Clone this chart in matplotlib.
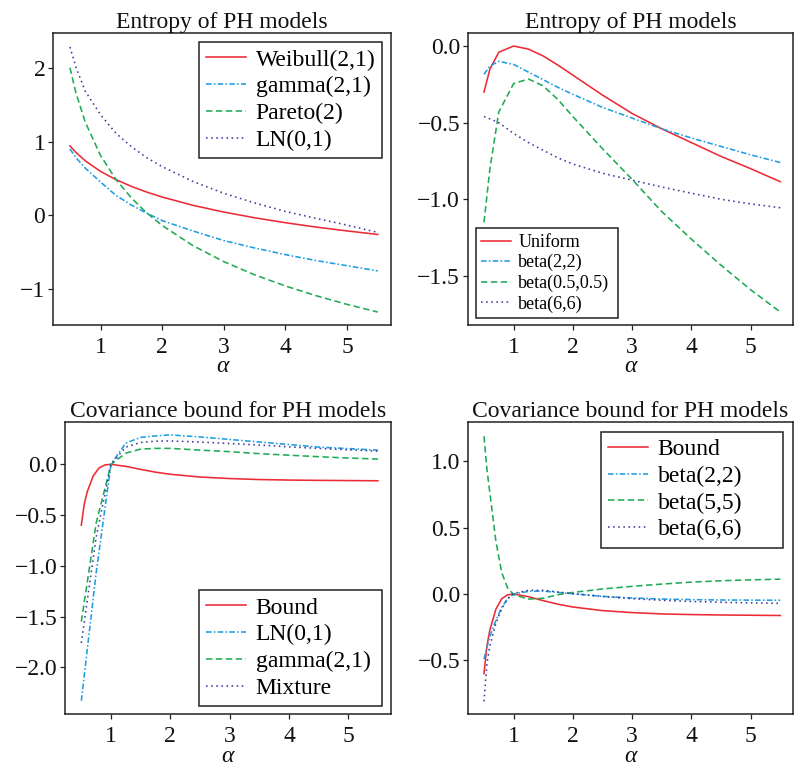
import numpy as np
import matplotlib
matplotlib.use("Agg")
import matplotlib.pyplot as plt

plt.rcParams['font.family'] = ['Liberation Serif', 'DejaVu Serif']
plt.rcParams['axes.unicode_minus'] = True

# ---- data ----
alpha_top = [0.5, 0.6, 0.75, 1.0, 1.25, 1.5, 1.75, 2.0, 2.5, 3.0, 3.5, 4.0, 4.5, 5.0, 5.5]

# entropy, heavy-ish models (top left)
weibull = [0.942, 0.851, 0.739, 0.595, 0.484, 0.393, 0.316, 0.249, 0.137, 0.046, -0.031, -0.098, -0.157, -0.209, -0.257]
gamma21 = [0.90, 0.78, 0.64, 0.45, 0.27, 0.14, 0.03, -0.07, -0.21, -0.34, -0.44, -0.53, -0.61, -0.68, -0.75]
pareto2 = [2.0, 1.651, 1.261, 0.807, 0.484, 0.235, 0.033, -0.136, -0.409, -0.625, -0.803, -0.954, -1.086, -1.203, -1.307]
lognorm = [2.28, 2.0, 1.68, 1.36, 1.11, 0.93, 0.78, 0.66, 0.46, 0.30, 0.17, 0.055, -0.04, -0.13, -0.23]

# entropy, bounded models (top right)
uniform = [-0.30, -0.15, -0.04, 0.0, -0.02, -0.065, -0.125, -0.19, -0.32, -0.44, -0.54, -0.63, -0.72, -0.80, -0.885]
beta22 = [-0.185, -0.13, -0.10, -0.12, -0.17, -0.22, -0.27, -0.315, -0.40, -0.47, -0.54, -0.60, -0.655, -0.71, -0.76]
beta0505 = [-1.15, -0.80, -0.43, -0.245, -0.215, -0.26, -0.35, -0.46, -0.67, -0.87, -1.08, -1.26, -1.43, -1.59, -1.735]
beta66 = [-0.46, -0.475, -0.50, -0.57, -0.63, -0.68, -0.73, -0.77, -0.83, -0.875, -0.92, -0.96, -1.00, -1.03, -1.055]

# covariance bound panels
alpha_fine = [0.5, 0.55, 0.6, 0.7, 0.8, 0.9, 1.0, 1.25, 1.5, 1.75, 2.0, 2.5, 3.0, 3.5, 4.0, 4.5, 5.0, 5.5]
alpha_coarse = [0.5, 0.75, 1.0, 1.25, 1.5, 1.75, 2.0, 2.5, 3.0, 3.5, 4.0, 4.5, 5.0, 5.5]
bound = [-0.60, -0.39, -0.27, -0.115, -0.035, -0.006, 0.0, -0.02, -0.05, -0.077, -0.098, -0.125, -0.14, -0.15, -0.155, -0.158, -0.16, -0.162]

ln_cov = [-2.33, -1.07, 0.0, 0.21, 0.265, 0.28, 0.29, 0.27, 0.245, 0.22, 0.195, 0.17, 0.155, 0.14]
gamma_cov = [-1.55, -0.58, 0.0, 0.11, 0.15, 0.157, 0.157, 0.14, 0.125, 0.105, 0.09, 0.075, 0.062, 0.052]
mix_cov = [-1.76, -0.72, 0.0, 0.17, 0.215, 0.228, 0.23, 0.22, 0.205, 0.19, 0.172, 0.157, 0.143, 0.13]

b22_cov = [-0.49, -0.40, -0.32, -0.20, -0.10, -0.035, 0.0, 0.02, 0.022, 0.012, 0.002, -0.018, -0.03, -0.038, -0.042, -0.045, -0.046, -0.047]
b55_cov = [1.19, 0.94, 0.76, 0.40, 0.16, 0.045, -0.005, -0.038, -0.032, -0.005, 0.012, 0.038, 0.058, 0.075, 0.09, 0.10, 0.107, 0.112]
b66_cov = [-0.81, -0.52, -0.39, -0.22, -0.11, -0.035, 0.005, 0.028, 0.028, 0.015, 0.003, -0.018, -0.035, -0.047, -0.056, -0.062, -0.067, -0.07]

# ---- styles ----
RED = '#EC2B36'
BLUE = '#1E9DE2'
GREEN = '#1FAA55'
PURPLE = '#3C3CA0'
LW = 1.15
ls_solid = '-'
ls_dotdash = (0, (3.5, 1.4, 1, 1.4))
ls_dash = (0, (4, 2.2))
ls_dot = (0, (1, 2.2))

W, H = 794, 767
fig = plt.figure(figsize=(W / 100, H / 100), dpi=100)


def px_axes(l, t, r, b):
    ax = fig.add_axes([l / W, (H - b) / H, (r - l) / W, (b - t) / H])
    ax._px = (l, t, r, b)
    return ax


def style(ax, title, ylim, yticks):
    ax.set_xlim(0.225, 5.715)
    ax.set_ylim(*ylim)
    ax.set_xticks([1, 2, 3, 4, 5])
    ax.set_yticks(yticks)
    for s in ax.spines.values():
        s.set_linewidth(1.1)
        s.set_color('#222222')
    ax.tick_params(direction='out', length=3.5, width=0.9, color='#222222',
                   labelsize=17, labelcolor='#111111')
    ax.tick_params(axis='x', pad=5)
    ax.tick_params(axis='y', pad=2)
    ax.set_title(title, fontsize=17, pad=3, color='#111111')
    ax.set_xlabel('α', fontsize=17, fontstyle='italic', labelpad=-1, color='#111111')


def legend(ax, box_left, box_right, edge_y, top, size, hl, spacing):
    # box given in pixels; converted to axes fraction
    l, t, r, b = ax._px
    x0 = (box_left - l) / (r - l)
    w = (box_right - box_left) / (r - l)
    y0 = 1 - (edge_y - t) / (b - t)
    loc = 'upper left' if top else 'lower left'
    leg = ax.legend(loc=loc, bbox_to_anchor=(x0, y0, w, 0), mode='expand',
                    borderaxespad=0, fontsize=size,
                    fancybox=False, frameon=True, edgecolor='#222222', framealpha=1,
                    handlelength=hl, handletextpad=0.4, labelspacing=spacing,
                    borderpad=0.3)
    leg.get_frame().set_linewidth(1.1)
    return leg


# top left
ax1 = px_axes(53, 33, 391, 325)
ax1.plot(alpha_top, weibull, color=RED, lw=LW, ls=ls_solid, label='Weibull(2,1)')
ax1.plot(alpha_top, gamma21, color=BLUE, lw=LW, ls=ls_dotdash, label='gamma(2,1)')
ax1.plot(alpha_top, pareto2, color=GREEN, lw=LW, ls=ls_dash, label='Pareto(2)')
ax1.plot(alpha_top, lognorm, color=PURPLE, lw=LW, ls=ls_dot, label='LN(0,1)')
style(ax1, 'Entropy of PH models', (-1.482, 2.469), [-1, 0, 1, 2])
legend(ax1, 199, 382, 42, True, 17, 1.7, 0.22)

# top right
ax2 = px_axes(467.7, 32.7, 793, 325)
ax2.plot(alpha_top, uniform, color=RED, lw=LW, ls=ls_solid, label='Uniform')
ax2.plot(alpha_top, beta22, color=BLUE, lw=LW, ls=ls_dotdash, label='beta(2,2)')
ax2.plot(alpha_top, beta0505, color=GREEN, lw=LW, ls=ls_dash, label='beta(0.5,0.5)')
ax2.plot(alpha_top, beta66, color=PURPLE, lw=LW, ls=ls_dot, label='beta(6,6)')
style(ax2, 'Entropy of PH models', (-1.82, 0.087), [-1.5, -1.0, -0.5, 0.0])
legend(ax2, 476, 618, 318, False, 13, 1.65, 0.18)

# bottom left
ax3 = px_axes(65, 421.7, 390.7, 714.3)
ax3.plot(alpha_fine, bound, color=RED, lw=LW, ls=ls_solid, label='Bound')
ax3.plot(alpha_coarse, ln_cov, color=BLUE, lw=LW, ls=ls_dotdash, label='LN(0,1)')
ax3.plot(alpha_coarse, gamma_cov, color=GREEN, lw=LW, ls=ls_dash, label='gamma(2,1)')
ax3.plot(alpha_coarse, mix_cov, color=PURPLE, lw=LW, ls=ls_dot, label='Mixture')
style(ax3, 'Covariance bound for PH models', (-2.463, 0.42), [-2.0, -1.5, -1.0, -0.5, 0.0])
legend(ax3, 199, 381.7, 706, False, 17, 1.7, 0.22)

# bottom right
ax4 = px_axes(467.7, 422.3, 793, 714.3)
ax4.plot(alpha_fine, bound, color=RED, lw=LW, ls=ls_solid, label='Bound')
ax4.plot(alpha_fine, b22_cov, color=BLUE, lw=LW, ls=ls_dotdash, label='beta(2,2)')
ax4.plot(alpha_fine, b55_cov, color=GREEN, lw=LW, ls=ls_dash, label='beta(5,5)')
ax4.plot(alpha_fine, b66_cov, color=PURPLE, lw=LW, ls=ls_dot, label='beta(6,6)')
style(ax4, 'Covariance bound for PH models', (-0.907, 1.295), [-0.5, 0.0, 0.5, 1.0])
legend(ax4, 601, 783.3, 431.7, True, 17, 1.7, 0.22)

fig.savefig('out.png', dpi=100)
